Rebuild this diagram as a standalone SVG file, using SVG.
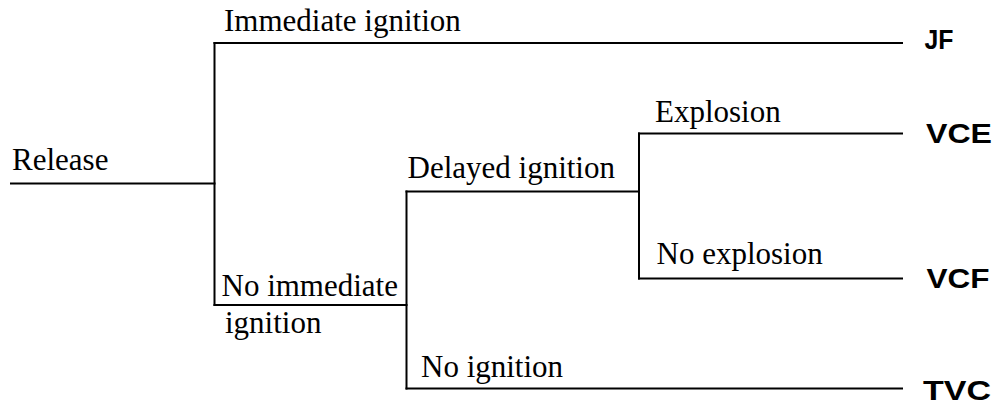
<svg xmlns="http://www.w3.org/2000/svg" width="995" height="415" viewBox="0 0 995 415">
<style>
.ln{stroke:#000;stroke-width:2;fill:none;stroke-linecap:square}
.lbl{font-family:"Liberation Serif","Times New Roman",serif;font-size:31px;fill:#000}
.out{font-family:"Liberation Sans",Arial,sans-serif;font-size:27px;font-weight:bold;fill:#000}
</style>
<rect width="995" height="415" fill="#fff"/>
<g id="connectors">
<path class="ln" d="M11,183.5 H214.5"/>
<path class="ln" d="M214.5,43 V305"/>
<path class="ln" d="M214.5,43 H902"/>
<path class="ln" d="M214.5,305 H406.5"/>
<path class="ln" d="M406.5,191.5 V388.5"/>
<path class="ln" d="M406.5,191.5 H639"/>
<path class="ln" d="M639,133.5 V278.5"/>
<path class="ln" d="M639,133.5 H902"/>
<path class="ln" d="M639,278.5 H902"/>
<path class="ln" d="M406.5,388.5 H902"/>
</g>
<g id="release"><text class="lbl" x="12" y="170">Release</text></g>
<g id="immediate-ignition"><text class="lbl" x="224" y="31">Immediate ignition</text></g>
<g id="no-immediate-ignition"><text class="lbl" x="221.5" y="295.5">No immediate</text><text class="lbl" x="225" y="333">ignition</text></g>
<g id="delayed-ignition"><text class="lbl" x="407.5" y="178">Delayed ignition</text></g>
<g id="no-ignition"><text class="lbl" x="421" y="376.5">No ignition</text></g>
<g id="explosion"><text class="lbl" x="655" y="121.5">Explosion</text></g>
<g id="no-explosion"><text class="lbl" x="656.5" y="263.5">No explosion</text></g>
<g id="jf"><text class="out" x="924.5" y="49" textLength="29" lengthAdjust="spacingAndGlyphs">JF</text></g>
<g id="vce"><text class="out" x="926" y="143" textLength="66" lengthAdjust="spacingAndGlyphs">VCE</text></g>
<g id="vcf"><text class="out" x="926.5" y="288" textLength="63" lengthAdjust="spacingAndGlyphs">VCF</text></g>
<g id="tvc"><text class="out" x="923" y="400" textLength="68" lengthAdjust="spacingAndGlyphs">TVC</text></g>
</svg>
